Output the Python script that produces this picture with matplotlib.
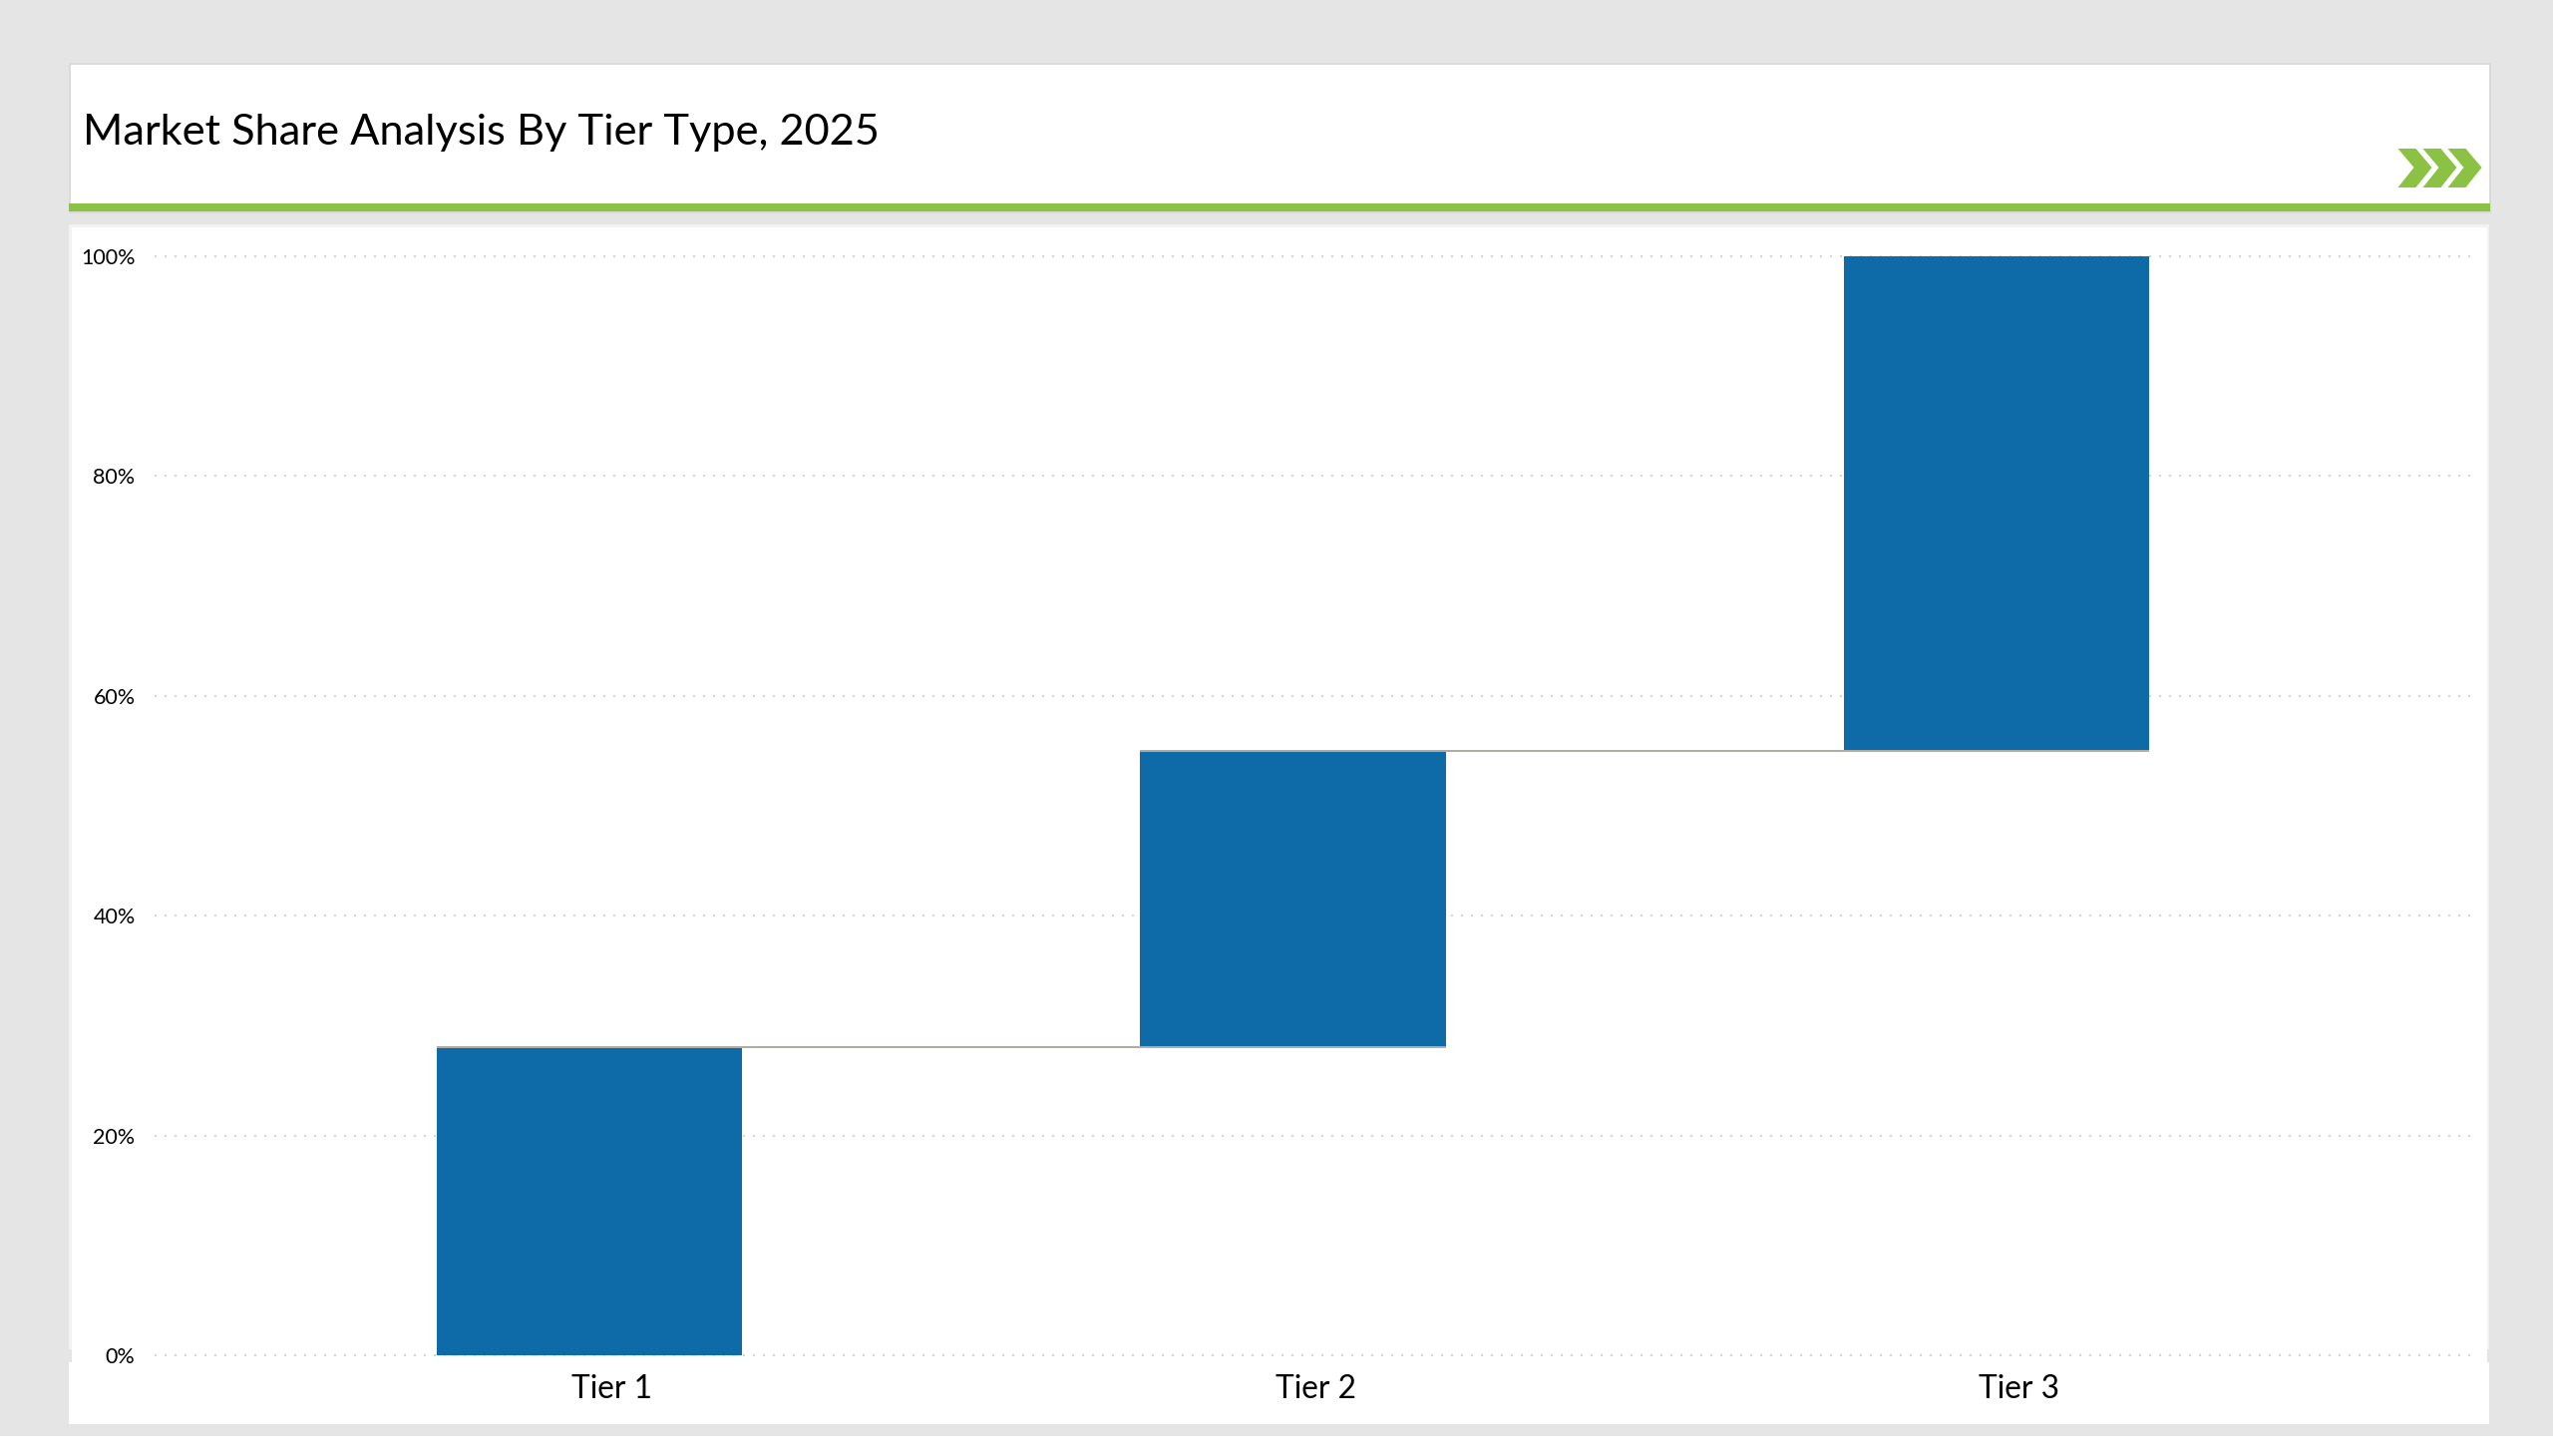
import matplotlib
matplotlib.use('Agg')
import matplotlib.pyplot as plt
from matplotlib.patches import Rectangle, Polygon
from matplotlib.ticker import FuncFormatter

categories = ['Tier 1', 'Tier 2', 'Tier 3']
increments = [28, 27, 45]
starts = [0, 28, 55]
yTicks = [0, 20, 40, 60, 80, 100]

barColor = '#0E6BA8'
green = '#8CC244'

plt.rcParams['font.family'] = ['Lato', 'DejaVu Sans']

W, H = 2560, 1460
fig = plt.figure(figsize=(W / 100, H / 100), dpi=100, facecolor='white')

# page furniture, drawn in pixel coordinates
bg = fig.add_axes([0, 0, 1, 1])
bg.set_xlim(0, W)
bg.set_ylim(H, 0)
bg.axis('off')


def box(x0, y0, x1, y1, color):
    bg.add_patch(Rectangle((x0, y0), x1 - x0, y1 - y0, facecolor=color, edgecolor='none'))


box(0, 0, W, 1440, '#E5E5E5')
box(69, 63, 2498, 214, '#DADADA')
box(71, 65, 2496, 204, 'white')
box(69, 204, 2497, 212, green)
box(69, 225, 2496, 1353, '#F2F2F2')
box(72, 228, 2494, 1366, 'white')
box(69, 1366, 2496, 1428, 'white')

for off in [0, 25, 50]:
    x = 2404.5 + off
    bg.add_patch(Polygon([(x, 149), (x + 18, 149), (x + 34, 168), (x + 18, 188),
                          (x, 188), (x + 16, 168)], facecolor=green, edgecolor='none'))

bg.text(83, 133, 'Market Share Analysis By Tier Type, 2025', fontsize=31.2, color='black',
        ha='left', va='center')

# plot area from pixel bounds
left, right, top, bottom = 155, 2477, 257, 1359
ax = fig.add_axes([left / W, 1 - bottom / H, (right - left) / W, (bottom - top) / H])
ax.patch.set_alpha(0)
for s in ax.spines.values():
    s.set_visible(False)

step = 705.5
ax.set_xlim((left - 591) / step, (right - 591) / step)
ax.set_ylim(0, 100)

xPos = list(range(len(categories)))
ax.bar(xPos, increments, bottom=starts, width=0.434, color=barColor, zorder=3)

# connector from each bar top across the next bar
for i in range(len(categories) - 1):
    level = starts[i] + increments[i]
    ax.plot([xPos[i] - 0.217, xPos[i + 1] + 0.217], [level, level], color='#B0ABA5', lw=1.44,
            zorder=4, solid_capstyle='butt', clip_on=False)

ax.set_yticks(yTicks)
ax.yaxis.set_major_formatter(FuncFormatter(lambda v, p: '%d%%' % v))
ax.set_xticks([p + 0.0326 for p in xPos])
ax.set_xticklabels(categories)
ax.tick_params(axis='y', length=0, pad=14, labelsize=15.5, labelcolor='black')
ax.tick_params(axis='x', length=0, pad=13.5, labelsize=22.8, labelcolor='black')
ax.grid(axis='y', color='#D4D4D4', lw=1.44, linestyle=(0, (1, 4)), zorder=1, clip_on=False)
ax.set_axisbelow(True)

plt.savefig('out.png', dpi=100)
